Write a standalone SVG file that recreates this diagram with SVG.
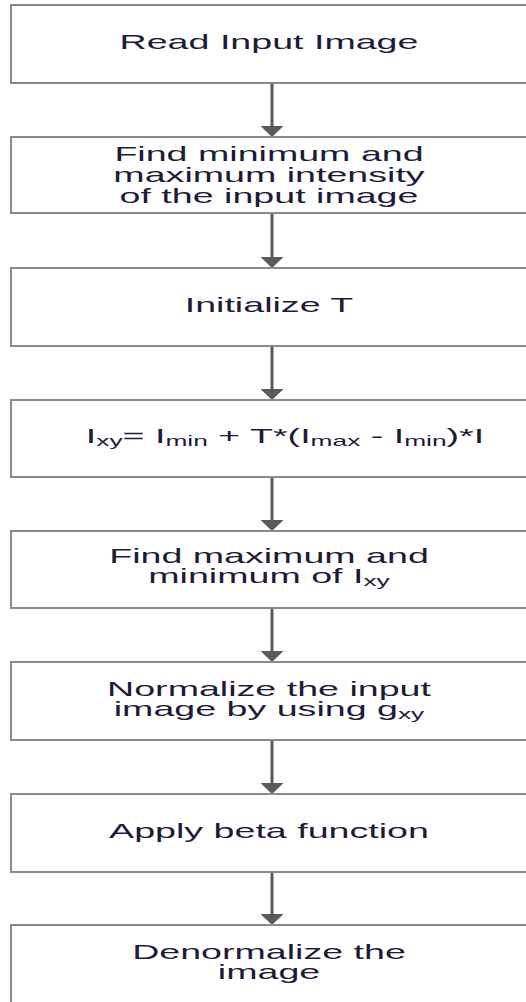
<svg xmlns="http://www.w3.org/2000/svg" width="526" height="1002" viewBox="0 0 526 1002">
<defs>
<style>
.box{fill:#fff;stroke:#8a8a8a;stroke-width:2}
.lbl{font-family:"Liberation Sans",Arial,sans-serif;font-size:20px;fill:#1e1a38;text-anchor:middle}
.sub{font-size:14px}
.conn{stroke:#5a5a5a;stroke-width:3;fill:none}
</style>
<marker id="ah" viewBox="0 0 11 23" refX="0" refY="11.5" markerWidth="11" markerHeight="23" markerUnits="userSpaceOnUse" orient="auto">
<path d="M0,0 L11,11.5 L0,23 Z" fill="#5a5a5a"/>
</marker>
</defs>
<rect width="526" height="1002" fill="#fff"/>
<g id="connectors">
<line class="conn" x1="272" y1="84" x2="272" y2="126" marker-end="url(#ah)"/>
<line class="conn" x1="272" y1="214" x2="272" y2="257" marker-end="url(#ah)"/>
<line class="conn" x1="272" y1="347" x2="272" y2="389" marker-end="url(#ah)"/>
<line class="conn" x1="272" y1="478" x2="272" y2="520" marker-end="url(#ah)"/>
<line class="conn" x1="272" y1="609" x2="272" y2="651" marker-end="url(#ah)"/>
<line class="conn" x1="272" y1="741" x2="272" y2="783" marker-end="url(#ah)"/>
<line class="conn" x1="272" y1="873" x2="272" y2="914" marker-end="url(#ah)"/>
</g>
<g id="n1">
<rect class="box" x="11" y="5" width="530" height="78"/>
<text class="lbl" transform="translate(269,49) scale(1.88,1)">Read Input Image</text>
</g>
<g id="n2">
<rect class="box" x="11" y="137" width="530" height="76"/>
<text class="lbl" transform="translate(269,161) scale(1.88,1)">Find minimum and</text>
<text class="lbl" transform="translate(269,182) scale(1.88,1)">maximum intensity</text>
<text class="lbl" transform="translate(269,203) scale(1.88,1)">of the input image</text>
</g>
<g id="n3">
<rect class="box" x="11" y="268" width="530" height="78"/>
<text class="lbl" transform="translate(269,312) scale(1.88,1)">Initialize T</text>
</g>
<g id="n4">
<rect class="box" x="11" y="400" width="530" height="77"/>
<text class="lbl" transform="translate(285,443) scale(1.88,1)">I<tspan class="sub" dy="3">xy</tspan><tspan dy="-3">= I</tspan><tspan class="sub" dy="3">min</tspan><tspan dy="-3"> + T*(I</tspan><tspan class="sub" dy="3">max</tspan><tspan dy="-3"> - I</tspan><tspan class="sub" dy="3">min</tspan><tspan dy="-3">)*I</tspan></text>
</g>
<g id="n5">
<rect class="box" x="11" y="531" width="530" height="77"/>
<text class="lbl" transform="translate(269,563) scale(1.88,1)">Find maximum and</text>
<text class="lbl" transform="translate(269,583) scale(1.88,1)">minimum of I<tspan class="sub" dy="3">xy</tspan></text>
</g>
<g id="n6">
<rect class="box" x="11" y="662" width="530" height="78"/>
<text class="lbl" transform="translate(269,696) scale(1.88,1)">Normalize the input</text>
<text class="lbl" transform="translate(269,716) scale(1.88,1)">image by using g<tspan class="sub" dy="3">xy</tspan></text>
</g>
<g id="n7">
<rect class="box" x="11" y="794" width="530" height="78"/>
<text class="lbl" transform="translate(269,838) scale(1.88,1)">Apply beta function</text>
</g>
<g id="n8">
<rect class="box" x="11" y="925" width="530" height="90"/>
<text class="lbl" transform="translate(269,959) scale(1.88,1)">Denormalize the</text>
<text class="lbl" transform="translate(269,979) scale(1.88,1)">image</text>
</g>
</svg>
